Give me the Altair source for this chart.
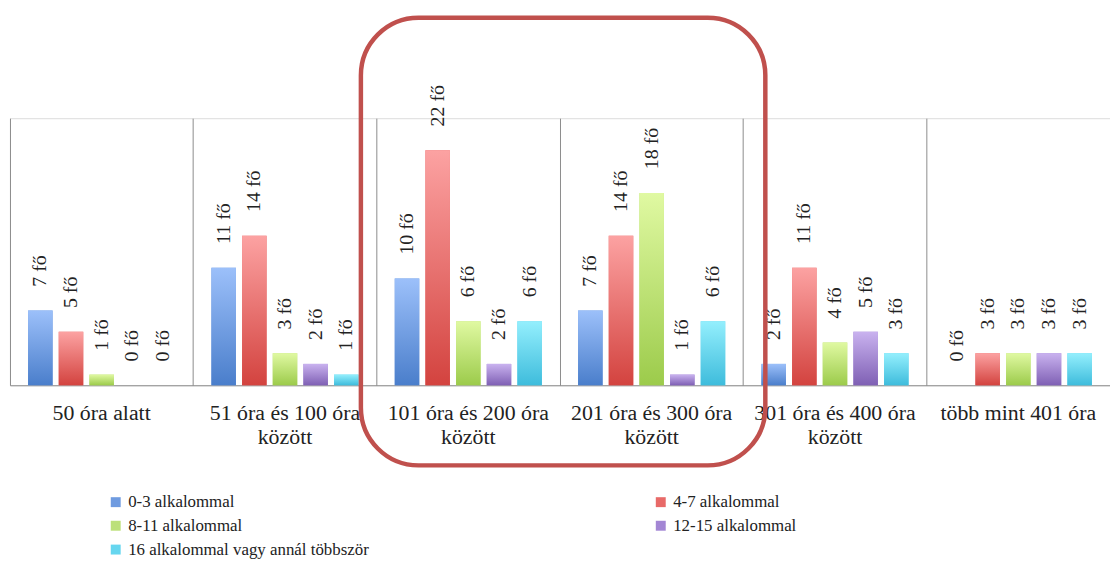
import altair as alt
import pandas as pd

categories = [
    "50 óra alatt",
    "51 óra  és 100 óra|között",
    "101 óra és 200 óra|között",
    "201 óra és 300 óra|között",
    "301 óra és 400 óra|között",
    "több mint 401 óra",
]
series = [
    "0-3 alkalommal",
    "4-7 alkalommal",
    "8-11 alkalommal",
    "12-15 alkalommal",
    "16  alkalommal vagy annál többször",
]
values_0_3 = [7, 11, 10, 7, 2, 0]
values_4_7 = [5, 14, 22, 14, 11, 3]
values_8_11 = [1, 3, 6, 18, 4, 3]
values_12_15 = [0, 2, 2, 1, 5, 3]
values_16 = [0, 1, 6, 6, 3, 3]
all_values = [values_0_3, values_4_7, values_8_11, values_12_15, values_16]

solid_colors = ["#6f9be0", "#e86a68", "#bce07a", "#a386d4", "#66d6ef"]
grad_stops = [
    ("#9cc0fa", "#4a7ecb"),
    ("#fca2a2", "#d3433f"),
    ("#e0f9a2", "#9ccb4b"),
    ("#c9b2ef", "#7f60b4"),
    ("#94effd", "#3ebcdc"),
]

rows = []
for s, vals in zip(series, all_values):
    for c, v in zip(categories, vals):
        rows.append({"cat": c, "series": s, "v": v, "label": f"{v} fő"})
df = pd.DataFrame(rows)

FONT = "Liberation Serif"

x_scale = alt.Scale(domain=categories, paddingInner=0, paddingOuter=0)
x_enc = alt.X(
    "cat:N",
    sort=categories,
    scale=x_scale,
    axis=alt.Axis(
        orient="bottom",
        title=None,
        labelAngle=0,
        ticks=False,
        grid=False,
        domainColor="#8c8c8c",
        labelFont=FONT,
        labelFontSize=22,
        labelFontWeight="normal",
        labelColor="#222222",
        labelPadding=17,
        labelLineHeight=25,
        labelLimit=400,
        labelOverlap=False,
        labelExpr="split(datum.label, '|')",
    ),
)
x_noaxis_enc = alt.X("cat:N", sort=categories, scale=x_scale, axis=None)
# separator axis: only grid lines at the start of each category band
x_grid_enc = alt.X(
    "cat:N",
    sort=categories,
    scale=x_scale,
    axis=alt.Axis(
        orient="top",
        title=None,
        grid=True,
        gridColor="#8c8c8c",
        gridWidth=1,
        bandPosition=0,
        labels=False,
        ticks=False,
        domain=False,
    ),
)
xoff_enc = alt.XOffset(
    "series:N",
    sort=series,
    scale=alt.Scale(domain=series, paddingInner=0.2, paddingOuter=0.59),
)
y_enc = alt.Y("v:Q", scale=alt.Scale(domain=[0, 25], nice=False), axis=None)

base = alt.Chart(df).mark_bar().encode(
    x=x_enc,
    xOffset=xoff_enc,
    y=y_enc,
    fill=alt.Fill(
        "series:N",
        sort=series,
        scale=alt.Scale(domain=series, range=solid_colors),
        legend=alt.Legend(
            title=None,
            orient="none",
            direction="horizontal",
            legendX=98,
            legendY=378,
            columns=2,
            columnPadding=281,
            rowPadding=6,
            symbolType="square",
            symbolSize=100,
            symbolStrokeWidth=0,
            labelFont=FONT,
            labelFontSize=17,
            labelColor="#222222",
            labelLimit=500,
            labelOffset=4,
        ),
    ),
)

grad_layers = []
for s, (top, bottom) in zip(series, grad_stops):
    grad = alt.Gradient(
        gradient="linear",
        stops=[alt.GradientStop(color=top, offset=0), alt.GradientStop(color=bottom, offset=1)],
        x1=0, x2=0, y1=0, y2=1,
    )
    grad_layers.append(
        alt.Chart(df)
        .transform_filter(alt.datum.series == s)
        .mark_bar(color=grad)
        .encode(x=x_noaxis_enc, xOffset=xoff_enc, y=y_enc)
    )

text = alt.Chart(df).mark_text(
    angle=270, align="left", baseline="middle", dx=24,
    font=FONT, fontSize=20, color="#222222",
).encode(x=x_grid_enc, xOffset=xoff_enc, y=y_enc, text="label:N")

# highlight frame around the 3rd and 4th category groups (in category-index units)
box_left_idx = 1.914
box_right_idx = 4.12
box_df = pd.DataFrame({"y1": [-7.5], "y2": [34.4]})
box = alt.Chart(box_df).mark_rect(
    fillOpacity=0, fill="#ffffff", stroke="#c0504d", strokeWidth=4.5, cornerRadius=58,
).encode(
    x=alt.value(alt.expr(f"width*{box_left_idx}/{len(categories)}")),
    x2=alt.value(alt.expr(f"width*{box_right_idx}/{len(categories)}")),
    y=alt.Y("y1:Q", scale=alt.Scale(domain=[0, 25], nice=False), axis=None),
    y2="y2:Q",
)

chart = (
    alt.layer(text, base, *grad_layers, box)
    .resolve_axis(x="independent")
    .properties(
        width=1108,
        height=269,
        autosize=alt.AutoSizeParams(type="none"),
        padding={"left": 2, "top": 109, "right": 0, "bottom": 173},
    )
    .configure_view(stroke=None)
    .configure(background="#ffffff")
)

chart.save("out.html", embed_options={"renderer": "svg", "actions": False})
